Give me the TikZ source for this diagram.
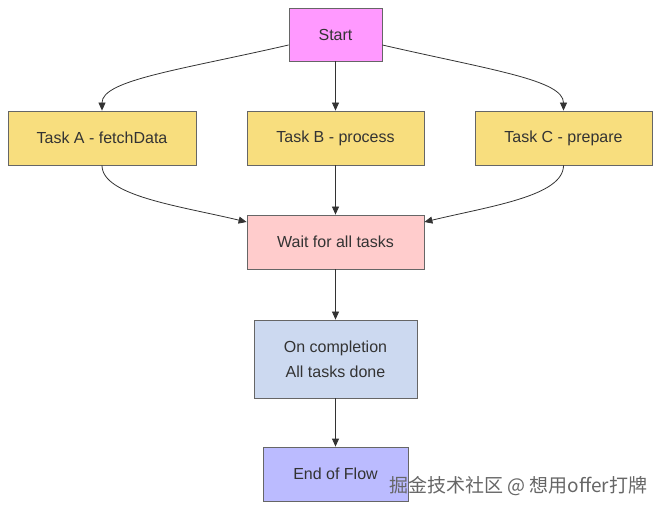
\documentclass[tikz,border=0pt]{standalone}
\usepackage{fontspec}
\setmainfont{Liberation Sans}
\newfontfamily\cjk{Noto Sans CJK SC}
\usetikzlibrary{arrows.meta}
\definecolor{startc}{HTML}{FF99FF}
\definecolor{taskc}{HTML}{F8DE7E}
\definecolor{waitc}{HTML}{FFCCCC}
\definecolor{donec}{HTML}{CCD9F0}
\definecolor{endc}{HTML}{BBBBFF}
\definecolor{edgec}{HTML}{333333}
\definecolor{bordc}{HTML}{666666}
\begin{document}
\begin{tikzpicture}[x=1pt,y=-1pt,
  box/.style={draw=bordc,line width=0.8pt,text=edgec,font=\fontsize{16}{20}\selectfont,align=center,inner sep=0pt},
  conn/.style={draw=edgec,line width=0.8pt,-{Triangle[length=8pt,width=7pt]}}]
\useasboundingbox (0,0) rectangle (661,510);
\node[box,fill=startc,minimum width=93pt,minimum height=53pt] (start) at (335.5,34.5) {Start};
\node[box,fill=taskc,minimum width=188pt,minimum height=54pt] (ta) at (102,138) {Task A - fetchData};
\node[box,fill=taskc,minimum width=177pt,minimum height=54pt] (tb) at (335.5,138) {Task B - process};
\node[box,fill=taskc,minimum width=177pt,minimum height=54pt] (tc) at (563.5,138) {Task C - prepare};
\node[box,fill=waitc,minimum width=177pt,minimum height=54pt] (wait) at (335.5,242) {Wait for all tasks};
\node[box,fill=donec,minimum width=163pt,minimum height=78pt] (done) at (335.5,359) {On completion\\[5pt]All tasks done};
\node[box,fill=endc,minimum width=145pt,minimum height=54pt] (end) at (335.5,474) {End of Flow};
\node[anchor=base west,text=black!60,font=\cjk\fontsize{19}{22}\selectfont,inner sep=0pt] (wm) at (389,492) {掘金技术社区 @ 想用offer打牌};
\coordinate (sL) at ([yshift=-10.5pt]start.west);
\coordinate (sR) at ([yshift=-10.5pt]start.east);
\coordinate (wL) at ([yshift=20pt]wait.west);
\coordinate (wR) at ([yshift=20pt]wait.east);
\draw[conn] (sL) .. controls (180,70) and (102,80) .. (ta.north);
\draw[conn] (start.south) -- (tb.north);
\draw[conn] (sR) .. controls (491,70) and (563.5,80) .. (tc.north);
\draw[conn] (ta.south) .. controls (102,196) and (180,206) .. (wL);
\draw[conn] (tb.south) -- (wait.north);
\draw[conn] (tc.south) .. controls (563.5,196) and (491,206) .. (wR);
\draw[conn] (wait.south) -- (done.north);
\draw[conn] (done.south) -- (end.north);
\end{tikzpicture}
\end{document}
